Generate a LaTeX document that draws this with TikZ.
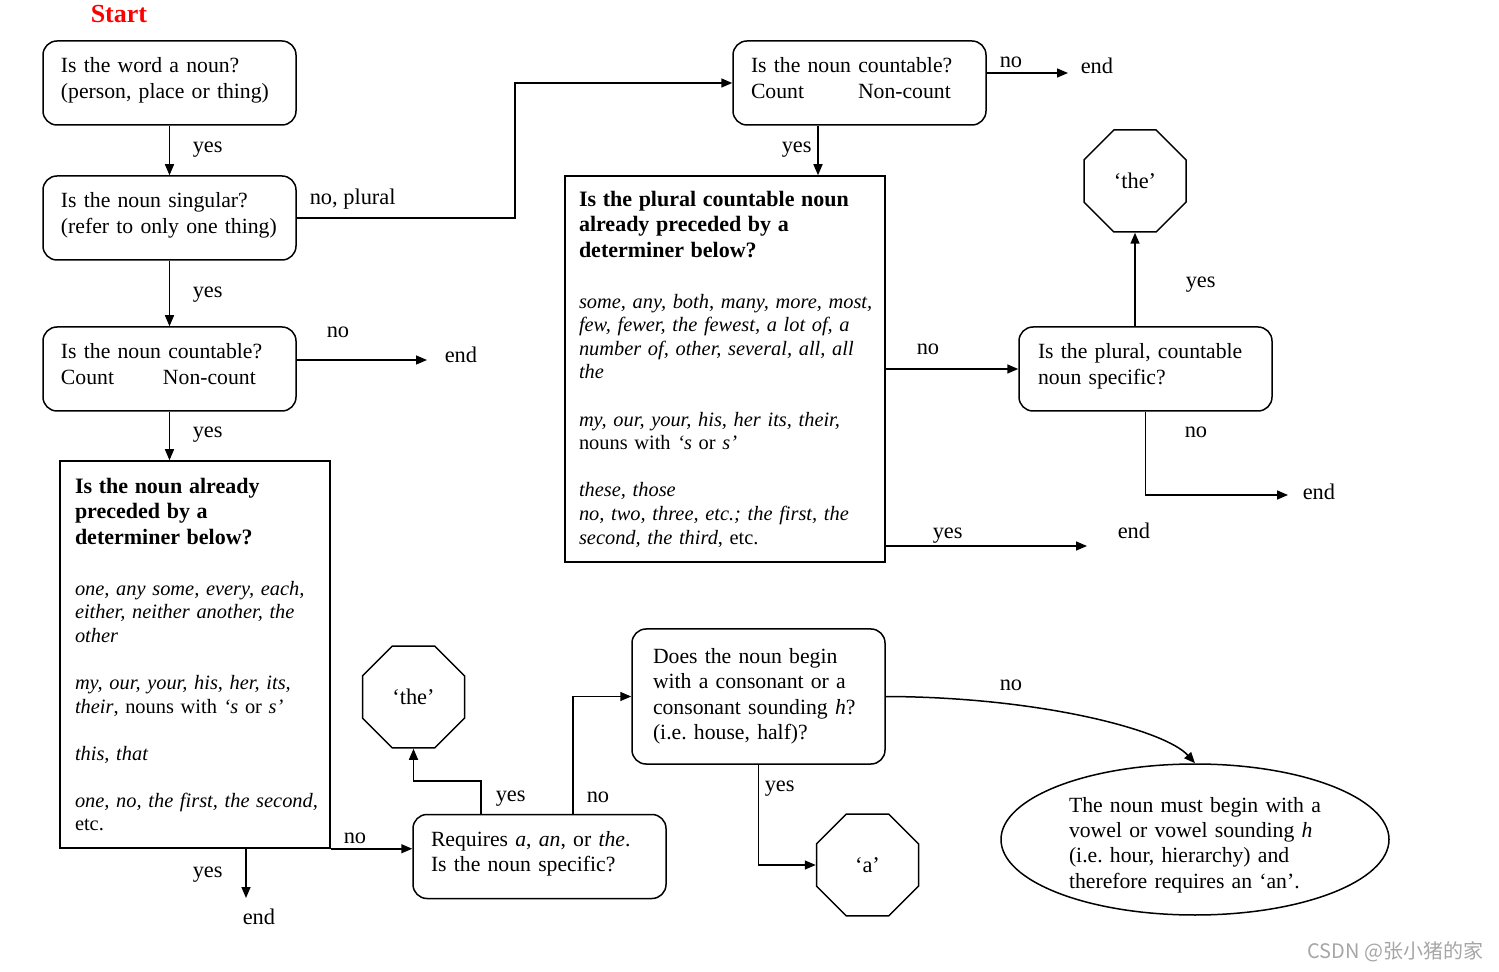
\documentclass[tikz,border=0pt]{standalone}
\usepackage{fontspec}
\setmainfont{Liberation Serif}
\newfontfamily\cjkfont{Noto Sans CJK SC}
\usetikzlibrary{arrows.meta,shapes.geometric,calc}

\newcommand\fmain{\fontsize{10.85pt}{12.7pt}\selectfont}
\newcommand\flbl{\fontsize{11.2pt}{12.7pt}\selectfont}
\newcommand\fhead{\fontsize{11pt}{12.75pt}\selectfont\bfseries}
\newcommand\flist{\fontsize{10.2pt}{11.8pt}\selectfont}
\newcommand\oneline[1]{\mbox{#1}}
\newcommand\boxend{\strut\par\vspace{2.4pt}}
\frenchspacing

\begin{document}
\begin{tikzpicture}[x=0.5pt,y=-0.5pt, line width=0.75pt,
  >={Triangle[length=5.5pt,width=4.5pt]},
  rbase/.style={draw, rounded corners=7pt, align=left, inner xsep=9pt, inner ysep=0pt, text width=108.5pt, minimum height=42pt, font=\fmain,
    execute at begin node=\strut},
  rbox/.style={rbase, execute at end node=\boxend},
  sqbox/.style={draw, align=left, inner ysep=0pt},
  octa/.style={draw, regular polygon, regular polygon sides=8, minimum size=55.2pt, inner sep=0pt, font=\flbl},
  lbl/.style={anchor=base west, inner sep=0pt, font=\flbl}]

\useasboundingbox (0,0) rectangle (1499,972);

% start label
\node[lbl, font={\fontsize{13pt}{15pt}\selectfont\bfseries}, text=red] (start) at (90,23) {Start};

% boxes
\node[rbox] (n1) at (169.5,83) {\oneline{Is the word a noun?}\\\oneline{(person, place or thing)}};
\node[rbox] (n2) at (169.5,218) {\oneline{Is the noun singular?}\\\oneline{(refer to only one thing)}};
\node[rbox] (n3) at (169.5,369) {\oneline{Is the noun countable?}\\\makebox[51pt][l]{Count}Non-count};

\node[sqbox, text width=120pt, inner xsep=7.5pt, minimum height=193.5pt] (n4) at (195,654.5) {%
{\fhead \oneline{Is the noun already}\\\oneline{preceded by a}\\\oneline{determiner below?}\par}
\vspace{13.75pt}
{\flist\itshape \oneline{one, any some, every, each,}\\\oneline{either, neither another, the}\\other\par}
\vspace{11.75pt}
{\flist\oneline{\textit{my, our, your, his, her, its,}}\\\oneline{\textit{their}, nouns with \textit{‘s} or \textit{s’}}\par}
\vspace{11.75pt}
{\flist\oneline{\textit{this, that}}\par}
\vspace{11.75pt}
{\flist\oneline{\textit{one, no, the first, the second,}}\\etc.\par}};

\node[rbox] (n5) at (539.5,856.5) {\oneline{Requires \textit{a}, \textit{an}, or \textit{the}.}\\\oneline{Is the noun specific?}};
\node[octa] (the2) at (413.5,697) {‘the’};
\node[rbase, text width=105.5pt, inner xsep=10.5pt, minimum height=67.5pt, execute at end node=\strut] (n6) at (758.5,696.5) {\oneline{Does the noun begin}\\\oneline{with a consonant or a}\\\oneline{consonant sounding \textit{h}?}\\\oneline{(i.e. house, half)?}};
\node[octa] (oa) at (867.5,865) {‘a’};
\node[draw, ellipse, minimum width=194pt, minimum height=75.5pt, inner sep=0pt] (ell) at (1195,839.5) {};
\node[align=left, text width=128pt, inner sep=0pt, font=\fmain] (elltext) at (1197,845) {\oneline{The noun must begin with a}\\\oneline{vowel or vowel sounding \textit{h}}\\\oneline{(i.e. hour, hierarchy) and}\\\oneline{therefore requires an ‘an’.}};

\node[rbox] (top) at (859.5,83) {\oneline{Is the noun countable?}\\\makebox[53.5pt][l]{Count}Non-count};
\node[sqbox, text width=146pt, inner xsep=7pt, minimum height=193pt] (big) at (725,369) {%
{\fhead \oneline{Is the plural countable noun}\\\oneline{already preceded by a}\\\oneline{determiner below?}\par}
\vspace{13.7pt}
{\flist\itshape \oneline{some, any, both, many, more, most,}\\\oneline{few, fewer, the fewest, a lot of, a}\\\oneline{number of, other, several, all, all}\\the\par}
\vspace{11.8pt}
{\flist\oneline{\textit{my, our, your, his, her its, their,}}\\\oneline{nouns with \textit{‘s} or \textit{s’}}\par}
\vspace{11.8pt}
{\flist\oneline{\textit{these, those}}\\\oneline{\textit{no, two, three, etc.; the first, the}}\\\oneline{\textit{second, the third}, etc.}\par}};
\node[rbox, inner xsep=9.5pt, text width=107.5pt] (ps) at (1145.5,369) {\oneline{Is the plural, countable}\\\oneline{noun specific?}};
\node[octa] (the1) at (1135,181) {‘the’};

% labels
\node[lbl] (y1) at (192,153) {yes};
\node[lbl] (np) at (309,205) {no, plural};
\node[lbl] (y2) at (192,298) {yes};
\node[lbl] (no1) at (326,338) {no};
\node[lbl] (end1) at (444,363) {end};
\node[lbl] (y3) at (192,438) {yes};
\node[lbl] (no2) at (999,68) {no};
\node[lbl] (end2) at (1080,74) {end};
\node[lbl] (y4) at (781,153) {yes};
\node[lbl] (y5) at (1185,288) {yes};
\node[lbl] (no3) at (916,355) {no};
\node[lbl] (no4) at (1184,438) {no};
\node[lbl] (end3) at (1302,500) {end};
\node[lbl] (y6) at (932,539) {yes};
\node[lbl] (end4) at (1117,539) {end};
\node[lbl] (no5) at (343,843) {no};
\node[lbl] (y7) at (192,877) {yes};
\node[lbl] (end5) at (242,924) {end};
\node[lbl] (y8) at (495,801) {yes};
\node[lbl] (no6) at (586,802) {no};
\node[lbl] (y9) at (764,791) {yes};
\node[lbl] (no7) at (999,690) {no};

% watermark
\node[anchor=base east, inner sep=0pt, text=black!35, font={\cjkfont\fontsize{10pt}{12pt}\selectfont}] (wm) at (1484,958) {CSDN @张小猪的家};

% connectors
\coordinate (e1) at (427,360);
\coordinate (c1) at (515,150);
\coordinate (e2) at (1068,73);
\coordinate (c2) at (818,150);
\coordinate (e3) at (1087,546);
\coordinate (e4) at (1288,495);
\coordinate (e5) at (246,898);
\coordinate (c3) at (481,781);
\coordinate (c5) at (573,750);

\draw[->] (n1.south) -- (n2.north);
\draw[->] (n2.south) -- (n3.north);
\draw[->] (n3.south) -- (n3.south |- n4.north);
\draw[->] (n3.east |- e1) -- (e1);
\draw[->] (n2.east) -| (c1) |- (top.west);
\draw[->] (top.east |- e2) -- (e2);
\draw[->] (top.south -| c2) -- (big.north -| c2);
\draw[->] (big.east |- ps.west) -- (ps.west);
\draw[->] (big.east |- e3) -- (e3);
\draw[->] (the1.south |- ps.north) -- (the1.south);
\draw[->] (ps.south) |- (e4);
\draw[->] (n4.south -| e5) -- (e5);
\draw[->] (n4.south east) -- (n5.west |- n4.south east);
\draw[->] (n5.north -| c3) -- (c3) -| (the2.south);
\draw[->] (n5.north -| c5) |- (n6.west);
\draw[->] (n6.south) |- (oa.west);
\draw[->] (n6.east) .. controls (1040,697) and (1165,730) .. (ell.north);
\end{tikzpicture}
\end{document}
